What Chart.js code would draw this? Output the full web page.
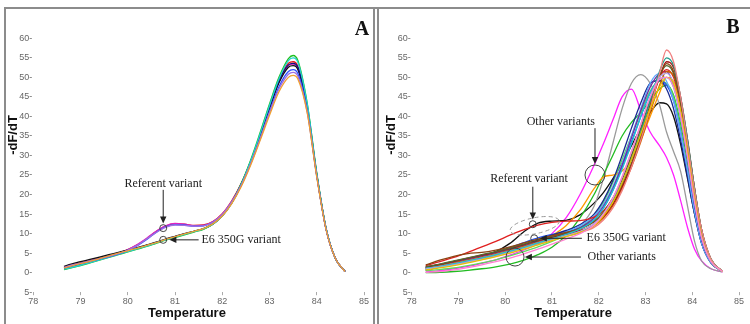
<!DOCTYPE html>
<html><head><meta charset="utf-8">
<script src="https://cdn.jsdelivr.net/npm/chart.js@4.4.1/dist/chart.umd.min.js"></script>
<style>
html,body{margin:0;padding:0;background:#fff;}
#wrap{position:relative;width:750px;height:324px;overflow:hidden;background:#fff;}
.pane{position:absolute;top:0;width:375px;height:324px;}
#pa{left:0}#pb{left:375px}
.ln{position:absolute;background:#8c8c8c;}
</style></head><body>
<div id="wrap">
<div class="pane" id="pa"><canvas id="ca" width="375" height="324"></canvas></div>
<div class="pane" id="pb"><canvas id="cb" width="375" height="324"></canvas></div>
<div class="ln" style="left:4px;top:7px;width:746px;height:2px"></div>
<div class="ln" style="left:4px;top:7px;width:2px;height:317px"></div>
<div class="ln" style="left:373px;top:7px;width:2px;height:317px"></div>
<div class="ln" style="left:377px;top:7px;width:2px;height:317px"></div>
</div>
<script>
// ---------- Panel A data ----------
const tempsA = [78.65,78.8,79.0,79.2,79.4,79.6,79.8,80.0,80.2,80.4,80.6,80.8,81.0,81.2,81.4,81.6,81.8,82.0,82.2,82.4,82.6,82.8,83.0,83.2,83.4,83.5,83.6,83.8,84.0,84.2,84.4,84.6];
const aOrange  = [1.2,1.7,2.3,2.9,3.6,4.3,5.0,5.6,6.3,7.0,7.7,8.5,9.2,9.9,10.6,11.3,12.5,14.5,17.7,22.0,27.5,33.8,40.3,46.3,50.0,50.5,49.6,40.8,24.5,10.9,3.5,0.3];
const aPurple  = [1.4,1.9,2.4,3.0,3.6,4.2,4.9,5.8,7.0,8.6,10.3,11.6,12.2,12.1,11.9,12.0,12.9,14.9,18.1,22.4,27.9,34.3,41.0,47.0,50.8,51.3,50.3,41.0,24.6,10.9,3.5,0.3];
const aBlue    = [1.2,1.7,2.3,2.9,3.5,4.1,4.8,5.7,6.9,8.5,10.3,11.7,12.3,12.2,11.9,12.0,12.9,14.8,18.0,22.3,27.8,34.2,41.2,47.6,51.5,52.0,51.0,41.5,24.8,11.0,3.5,0.3];
const aBlack   = [1.6,2.2,2.8,3.4,4.0,4.6,5.2,5.8,6.4,7.1,7.8,8.6,9.3,10.0,10.6,11.3,12.5,14.6,17.8,22.4,28.2,34.9,42.0,48.6,52.6,53.0,52.0,42.0,25.0,11.0,3.5,0.3];
const aNavy    = [1.1,1.6,2.2,2.9,3.6,4.3,5.0,5.6,6.3,7.0,7.7,8.5,9.2,9.9,10.6,11.2,12.4,14.5,17.9,22.6,28.4,35.2,42.4,49.2,53.2,53.6,52.6,42.3,25.1,11.1,3.5,0.3];
const aMagenta = [1.3,1.8,2.4,3.0,3.6,4.2,4.9,5.9,7.2,8.8,10.6,12.0,12.6,12.4,12.0,12.1,13.0,15.0,18.2,22.6,28.2,34.8,42.0,48.8,53.0,53.4,52.3,42.0,25.0,11.0,3.5,0.3];
const aRed     = [1.5,2.0,2.5,3.1,3.7,4.3,5.0,5.9,7.1,8.7,10.5,11.9,12.5,12.4,12.1,12.2,13.1,15.1,18.4,22.8,28.4,35.0,42.3,49.2,53.6,54.0,52.8,42.2,25.2,11.1,3.5,0.3];
const aCyan    = [0.9,1.3,1.9,2.6,3.3,4.0,4.7,5.4,6.1,6.8,7.6,8.4,9.1,9.8,10.5,11.2,12.4,14.5,17.8,22.5,28.5,35.5,42.8,49.6,54.3,55.0,53.9,43.0,25.4,11.2,3.5,0.3];
const aGreen   = [0.8,1.2,1.8,2.5,3.2,3.9,4.6,5.3,6.0,6.7,7.5,8.3,9.0,9.7,10.4,11.1,12.4,14.6,18.0,22.8,28.8,35.8,43.2,50.0,54.8,55.6,54.3,43.2,25.5,11.2,3.5,0.3];

// ---------- Panel B data ----------
const tempsB = [78.3,78.6,78.9,79.2,79.5,79.8,80.1,80.4,80.7,81.0,81.3,81.6,81.9,82.1,82.3,82.5,82.7,82.9,83.1,83.3,83.45,83.6,83.75,83.9,84.05,84.2,84.4,84.65];
const bPink     = [0.1,0.3,0.7,1.3,2.0,2.8,3.7,4.8,6.0,7.3,8.6,10.0,12.2,15.0,19.0,24.5,31.0,38.0,45.0,49.5,50.0,47.5,40.0,29.5,18.0,9.0,2.9,0.3];
const bYellow   = [0.7,1.2,1.8,2.5,3.3,4.1,5.0,6.0,7.1,8.2,9.2,10.3,12.0,14.5,18.0,23.0,29.0,35.5,42.0,47.5,50.0,48.5,41.5,31.0,19.0,9.5,3.0,0.3];
const bLavender = [0.9,1.4,2.0,2.7,3.4,4.2,5.1,6.1,7.2,8.3,9.4,10.6,12.5,15.0,19.0,24.5,31.0,38.0,45.0,50.0,51.0,48.5,41.0,30.0,18.5,9.0,2.9,0.3];
const bCyan     = [1.1,1.6,2.3,3.0,3.8,4.6,5.5,6.5,7.6,8.7,9.8,11.2,13.5,16.5,21.0,26.5,33.0,40.0,46.0,49.5,50.0,47.5,40.0,29.5,18.0,9.0,2.9,0.3];
const bSalmon   = [1.0,1.6,2.3,3.0,3.8,4.6,5.5,6.5,7.6,8.6,9.5,10.3,11.6,13.5,16.5,21.0,27.0,34.0,42.0,51.0,57.0,54.0,45.0,33.0,21.0,11.0,3.5,0.3];
const bTeal     = [0.8,1.4,2.1,2.9,3.7,4.5,5.4,6.4,7.4,8.4,9.3,10.4,12.5,15.0,18.5,23.0,29.0,36.0,44.0,51.5,55.0,53.0,45.0,34.0,21.5,11.0,3.5,0.3];
const bBrown    = [2.0,3.2,4.2,4.9,5.2,5.8,6.6,7.6,8.6,9.5,10.3,11.2,13.0,15.0,18.0,22.5,28.0,35.0,43.0,50.0,53.5,51.5,44.0,33.0,21.0,10.5,3.2,0.3];
const bOlive    = [1.5,2.2,3.0,3.8,4.6,5.4,6.3,7.3,8.3,9.3,10.2,11.3,13.2,15.5,19.0,24.0,30.0,37.0,44.5,50.5,53.0,51.0,43.5,32.5,20.5,10.5,3.3,0.3];
const bDarkRed  = [1.4,2.1,2.9,3.7,4.5,5.3,6.2,7.2,8.2,9.1,9.9,10.8,12.3,14.3,17.5,22.0,27.5,34.5,42.5,50.0,54.0,52.5,45.0,34.0,21.5,11.0,3.5,0.3];
const bChoc     = [1.2,1.8,2.5,3.2,4.0,4.8,5.7,6.7,7.8,8.8,9.6,10.5,12.0,14.0,17.0,21.5,27.0,33.5,41.0,48.0,51.5,50.5,44.0,33.5,21.5,11.0,3.4,0.3];
const bRed      = [1.8,2.8,3.9,5.2,6.6,8.0,9.6,11.0,12.2,12.9,13.2,13.3,14.2,15.8,19.0,24.0,30.0,37.0,44.0,50.0,52.0,50.0,43.0,32.0,20.0,10.0,3.2,0.3];
const bPurple   = [1.3,1.9,2.6,3.4,4.2,5.0,5.9,6.9,8.0,9.0,10.0,11.5,14.0,17.0,21.5,27.5,34.5,41.5,47.5,51.0,51.5,48.0,40.0,29.0,17.5,8.5,2.8,0.3];
const bLightBlue= [1.0,1.5,2.2,3.0,3.8,4.7,5.7,6.8,8.0,9.2,10.4,12.0,14.5,17.5,22.0,28.0,35.0,42.0,48.5,51.0,49.0,44.0,36.0,26.0,15.5,7.5,2.5,0.3];
const bNavy     = [1.2,1.8,2.5,3.3,4.1,5.0,6.0,7.2,8.4,9.6,10.8,12.3,15.0,18.5,23.5,30.0,37.0,43.5,48.5,49.2,47.0,42.0,34.0,24.5,15.0,7.5,2.5,0.3];
const bBlue     = [1.5,2.1,2.8,3.5,4.3,5.2,6.4,7.7,8.9,9.8,10.5,11.5,13.5,16.5,21.0,27.0,33.5,40.0,46.0,49.2,48.0,44.0,36.0,26.0,16.0,8.0,2.7,0.3];
const bOrange   = [1.0,1.5,2.2,3.0,3.8,4.6,5.5,6.6,7.8,9.5,12.0,16.0,21.5,24.5,25.0,26.0,29.0,34.0,40.0,46.0,50.0,49.0,42.0,31.0,19.0,9.5,3.0,0.3];
const bLightGreen=[0.5,0.8,1.2,1.8,2.5,3.3,4.3,5.4,6.6,8.0,9.6,11.5,14.5,18.0,23.0,29.0,35.0,41.0,46.5,49.0,48.5,45.0,37.0,27.0,16.5,8.0,2.6,0.3];
const bGreen    = [0.0,0.1,0.3,0.6,1.0,1.5,2.2,3.2,4.6,6.5,9.5,14.0,20.0,25.0,30.0,35.0,38.5,41.0,44.0,47.0,48.0,45.5,38.0,28.0,17.0,8.5,2.7,0.3];
const bGray     = [1.0,1.5,2.1,2.8,3.5,4.3,5.2,6.2,7.3,8.5,10.0,12.0,17.0,24.0,33.0,42.0,48.5,50.7,48.5,43.0,36.0,31.0,26.0,17.0,8.0,3.0,1.0,0.2];
const bBlack    = [0.6,1.5,2.5,3.5,4.4,5.4,7.5,10.5,12.7,13.2,13.4,14.8,17.8,20.5,24.0,28.0,32.5,37.0,41.0,43.5,43.2,40.0,33.0,24.0,15.0,7.5,2.5,0.3];
const bMagenta  = [0.2,0.5,1.0,1.6,2.4,3.3,4.5,5.8,7.5,10.0,14.0,20.0,27.5,33.0,39.0,45.0,47.0,41.5,36.0,32.5,29.5,25.0,18.5,11.5,6.0,3.0,1.0,0.2];

const xTicks = [78,79,80,81,82,83,84,85];
const yTicks = [-5,0,5,10,15,20,25,30,35,40,45,50,55,60];

const seriesA = [
  [aOrange,'#f0a030'],[aPurple,'#a070e0'],[aBlue,'#3050ff'],[aCyan,'#20d0d0'],
  [aGreen,'#20c020'],[aNavy,'#101080'],[aBlack,'#111111'],[aMagenta,'#e020c0'],[aRed,'#e01818']
];
const seriesB = [
  [bPink,'#ff80d0'],[bYellow,'#e8c000'],[bLavender,'#b8a8e8'],[bCyan,'#20c0d0'],
  [bSalmon,'#f08080'],[bTeal,'#209a88'],[bBrown,'#8b4513'],[bOlive,'#556b2f'],
  [bDarkRed,'#a01010'],[bChoc,'#d06000'],[bRed,'#e02020'],[bPurple,'#7030a0'],
  [bLightBlue,'#60a8ff'],[bNavy,'#1a2a90'],[bBlue,'#2050f0'],[bOrange,'#ff9900'],
  [bLightGreen,'#60d860'],[bGreen,'#22bb22'],[bGray,'#9a9a9a'],[bBlack,'#111111'],[bMagenta,'#ff20ff']
];

const notesA = [
  {type:'text', t:80.75, v:22.8, text:'Referent variant', align:'center'},
  {type:'arrow', t1:80.75, v1:21.2, t2:80.75, v2:12.6},
  {type:'circle', t:80.75, v:11.4, r:3.5},
  {type:'circle', t:80.75, v:8.4, r:3.5},
  {type:'arrow', t1:81.5, v1:8.4, t2:80.88, v2:8.4},
  {type:'text', t:81.56, v:8.3, text:'E6 350G variant', align:'left'}
];
const notesB = [
  {type:'text', t:81.19, v:38.7, text:'Other variants', align:'center'},
  {type:'arrow', t1:81.92, v1:37.0, t2:81.92, v2:27.8},
  {type:'circle', t:81.92, v:25.0, r:10},
  {type:'text', t:80.51, v:23.9, text:'Referent variant', align:'center'},
  {type:'arrow', t1:80.59, v1:22.0, t2:80.59, v2:13.6},
  {type:'circle', t:80.59, v:12.4, r:3.5},
  {type:'ellipse', t:80.63, v:12.0, rx:25, ry:8, rot:-0.2},
  {type:'circle', t:80.62, v:8.8, r:3.5},
  {type:'arrow', t1:81.64, v1:8.8, t2:80.74, v2:8.8},
  {type:'text', t:81.74, v:8.8, text:'E6 350G variant', align:'left'},
  {type:'circle', t:80.21, v:4.0, r:9},
  {type:'arrow', t1:81.62, v1:4.0, t2:80.42, v2:4.0},
  {type:'text', t:81.76, v:4.0, text:'Other variants', align:'left'}
];

function notesPlugin(notes){
  return {id:'notes', afterDatasetsDraw(chart){
    const ctx=chart.ctx, xs=chart.scales.x, ys=chart.scales.y;
    const px=t=>xs.getPixelForValue(t), py=v=>ys.getPixelForValue(v);
    ctx.save();
    ctx.strokeStyle='#333'; ctx.fillStyle='#222'; ctx.lineWidth=1;
    notes.forEach(n=>{
      if(n.type==='text'){
        ctx.font='12px "Liberation Serif", "Times New Roman", serif';
        ctx.textAlign=n.align; ctx.textBaseline='middle';
        ctx.fillText(n.text, px(n.t), py(n.v));
      } else if(n.type==='circle'){
        ctx.beginPath(); ctx.arc(px(n.t), py(n.v), n.r, 0, Math.PI*2); ctx.strokeStyle='#444'; ctx.stroke();
      } else if(n.type==='ellipse'){
        ctx.beginPath(); ctx.setLineDash([4,3]); ctx.strokeStyle='#999';
        ctx.ellipse(px(n.t), py(n.v), n.rx, n.ry, n.rot, 0, Math.PI*2); ctx.stroke(); ctx.setLineDash([]);
      } else if(n.type==='arrow'){
        const x1=px(n.t1), y1=py(n.v1), x2=px(n.t2), y2=py(n.v2);
        const a=Math.atan2(y2-y1,x2-x1), L=7, W=3.2;
        ctx.strokeStyle='#222'; ctx.beginPath(); ctx.moveTo(x1,y1);
        ctx.lineTo(x2-Math.cos(a)*L*0.8, y2-Math.sin(a)*L*0.8); ctx.stroke();
        ctx.beginPath(); ctx.moveTo(x2,y2);
        ctx.lineTo(x2-Math.cos(a)*L - Math.sin(a)*W, y2-Math.sin(a)*L + Math.cos(a)*W);
        ctx.lineTo(x2-Math.cos(a)*L + Math.sin(a)*W, y2-Math.sin(a)*L - Math.cos(a)*W);
        ctx.closePath(); ctx.fill();
      }
    });
    ctx.restore();
  }};
}

function labelsPlugin(cfg){
  return {id:'labels', afterDraw(chart){
    const ctx=chart.ctx; ctx.save(); ctx.fillStyle='#111';
    ctx.font='bold 13px "Liberation Sans", Arial, sans-serif';
    ctx.textAlign='center'; ctx.textBaseline='middle';
    ctx.fillText('Temperature', cfg.xtX, cfg.xtY);
    ctx.translate(cfg.ytX, cfg.ytY); ctx.rotate(-Math.PI/2);
    ctx.fillText('-dF/dT', 0, 0);
    ctx.setTransform(1,0,0,1,0,0);
    ctx.font='bold 20px "Liberation Serif", "Times New Roman", serif';
    ctx.fillText(cfg.letter, cfg.lX, cfg.lY);
    ctx.restore();
  }};
}

function build(id, temps, series, notes, lab, yW, padR){
  const datasets = series.map(([vals,col])=>({
    data: temps.map((t,i)=>({x:t,y:vals[i]})),
    borderColor: col, borderWidth: 1.3, pointRadius: 0, fill: false,
    cubicInterpolationMode: 'monotone'
  }));
  new Chart(document.getElementById(id), {
    type:'line',
    data:{datasets},
    options:{
      responsive:false, animation:false, events:[],
      layout:{padding:{top:38.3,right:padR,left:0,bottom:0}},
      plugins:{legend:{display:false}, tooltip:{enabled:false}},
      scales:{
        x:{type:'linear', min:xTicks[0], max:xTicks[xTicks.length-1],
           afterBuildTicks(s){ s.ticks = xTicks.map(v=>({value:v})); },
           ticks:{color:'#666', font:{family:'"Liberation Sans", Arial', size:9}, padding:1, maxRotation:0, autoSkip:false,
                  callback:v=>String(v)},
           grid:{display:true, drawOnChartArea:false, drawTicks:true, tickLength:3, color:'#aaa'},
           border:{display:false},
           afterFit(s){ s.height = 31.8; }},
        y:{type:'linear', min:yTicks[0], max:yTicks[yTicks.length-1],
           afterBuildTicks(s){ s.ticks = yTicks.map(v=>({value:v})); },
           ticks:{color:'#666', font:{family:'"Liberation Sans", Arial', size:9}, padding:1, autoSkip:false,
                  callback:v=>Math.abs(v)+'-'},
           grid:{display:false, drawTicks:false, tickLength:0}, border:{display:false},
           afterFit(s){ s.width = yW; }}
      }
    },
    plugins:[notesPlugin(notes), labelsPlugin(lab)]
  });
}

build('ca', tempsA, seriesA, notesA, {xtX:187, xtY:313, ytX:13.5, ytY:135, letter:'A', lX:362, lY:30}, 33.3, 11);
build('cb', tempsB, seriesB, notesB, {xtX:198, xtY:313, ytX:16, ytY:135, letter:'B', lX:358, lY:28}, 36.7, 11);
</script>
</body></html>
